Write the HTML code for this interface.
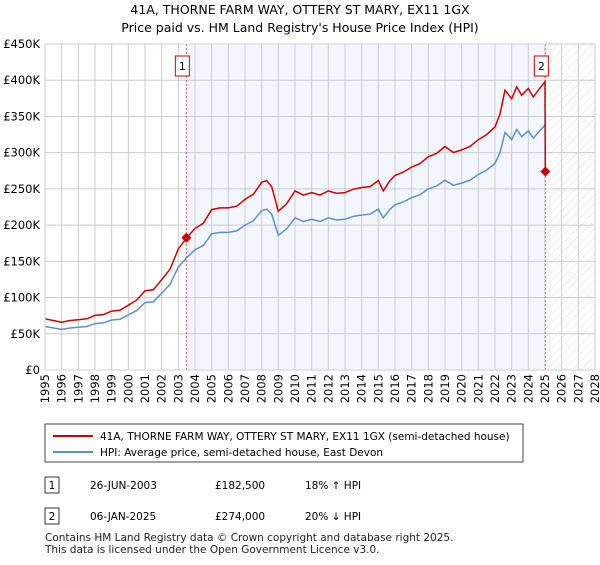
<!DOCTYPE html>
<html><head><meta charset="utf-8"><style>
body{margin:0;background:#fff;font-family:"Liberation Sans","DejaVu Sans",sans-serif;}
</style></head><body>
<svg width="600" height="560" xmlns="http://www.w3.org/2000/svg" font-family="DejaVu Sans, Liberation Sans, sans-serif">
<defs><pattern id="hatch" width="6" height="6" patternUnits="userSpaceOnUse" patternTransform="rotate(45)"><line x1="0" y1="0" x2="0" y2="6" stroke="#d4d4d4" stroke-width="0.8"/></pattern></defs>
<text x="300" y="14" text-anchor="middle" font-size="12.5" fill="#000">41A, THORNE FARM WAY, OTTERY ST MARY, EX11 1GX</text>
<text x="300" y="32" text-anchor="middle" font-size="12.5" fill="#000">Price paid vs. HM Land Registry's House Price Index (HPI)</text>
<g id="plot"></g>
<g>
<rect x="45" y="424" width="478" height="38" fill="#fff" stroke="#444"/>
<line x1="53" y1="436" x2="93" y2="436" stroke="#cc0000" stroke-width="2"/>
<text x="100" y="440" font-size="10.5">41A, THORNE FARM WAY, OTTERY ST MARY, EX11 1GX (semi-detached house)</text>
<line x1="53" y1="452" x2="93" y2="452" stroke="#5b8fd4" stroke-width="2"/>
<text x="100" y="456" font-size="10.5">HPI: Average price, semi-detached house, East Devon</text>
</g>
<g font-size="10.5">
<rect x="45" y="477" width="14" height="16" fill="#fff" stroke="#333"/><text x="52" y="489" text-anchor="middle">1</text>
<text x="90" y="489">26-JUN-2003</text><text x="215" y="489">£182,500</text><text x="305" y="489">18% ↑ HPI</text>
<rect x="45" y="508" width="14" height="16" fill="#fff" stroke="#333"/><text x="52" y="520" text-anchor="middle">2</text>
<text x="90" y="520">06-JAN-2025</text><text x="215" y="520">£274,000</text><text x="305" y="520">20% ↓ HPI</text>
</g>
<text x="45" y="541" font-size="10.5" fill="#222">Contains HM Land Registry data © Crown copyright and database right 2025.</text>
<text x="45" y="553" font-size="10.5" fill="#222">This data is licensed under the Open Government Licence v3.0.</text>
</svg>
<script>
const yearTicks=[1995,1996,1997,1998,1999,2000,2001,2002,2003,2004,2005,2006,2007,2008,2009,2010,2011,2012,2013,2014,2015,2016,2017,2018,2019,2020,2021,2022,2023,2024,2025,2026,2027,2028];
const priceTicks=[0,50,100,150,200,250,300,350,400,450];
const priceTickLabels=["£0","£50K","£100K","£150K","£200K","£250K","£300K","£350K","£400K","£450K"];
const hpiYears=[1995,1995.5,1996,1996.5,1997,1997.5,1998,1998.5,1999,1999.5,2000,2000.5,2001,2001.5,2002,2002.5,2003,2003.5,2004,2004.5,2005,2005.5,2006,2006.5,2007,2007.5,2008,2008.3,2008.6,2009,2009.5,2010,2010.5,2011,2011.5,2012,2012.5,2013,2013.5,2014,2014.5,2015,2015.3,2015.7,2016,2016.5,2017,2017.5,2018,2018.5,2019,2019.5,2020,2020.5,2021,2021.5,2022,2022.3,2022.6,2023,2023.3,2023.6,2024,2024.3,2024.6,2025];
const hpiValues=[60,58,56,58,59,60,64,65,69,70,76,82,93,94,106,118,142,155,166,172,188,190,190,192,200,206,220,222,215,186,195,210,205,208,205,210,207,208,212,214,215,222,210,222,228,232,238,242,250,254,262,255,258,262,270,276,285,300,328,318,332,322,330,320,328,338];
const saleYears=[2003.48,2025.02];
const saleValues=[182.5,274];
const saleLabels=["1","2"];
const ns="http://www.w3.org/2000/svg";
const X0=45,X1=595,Y0=370,Y1=44;
const xs=y=>X0+(y-1995)/(2028-1995)*(X1-X0);
const ys=v=>Y0-v/450*(Y0-Y1);
const g=document.getElementById('plot');
function mk(t,a){const e=document.createElementNS(ns,t);for(const k in a)e.setAttribute(k,a[k]);g.appendChild(e);return e;}
let e;
e=mk('rect',{x:xs(saleYears[0]),y:Y1,width:xs(saleYears[1])-xs(saleYears[0]),height:Y0-Y1,fill:'#eef3fc',opacity:0.7});

e=mk('rect',{x:xs(saleYears[1])+1,y:Y1,width:X1-xs(saleYears[1])-1,height:Y0-Y1,fill:'url(#hatch)'});

yearTicks.forEach(yr=>{
 e=mk('line',{x1:xs(yr),x2:xs(yr),y1:Y1,y2:Y0,stroke:'#ccc','stroke-width':1});
 
 e=mk('text',{x:xs(yr)+4,y:Y0+4,'font-size':11.5,'text-anchor':'end',transform:`rotate(-90 ${xs(yr)+4} ${Y0+4})`});
 e.textContent=yr;
});
priceTicks.forEach((v,i)=>{
 e=mk('line',{x1:X0,x2:X1,y1:ys(v),y2:ys(v),stroke:'#ccc','stroke-width':1});
 
 e=mk('text',{x:X0-5,y:ys(v)+4,'font-size':11.5,'text-anchor':'end'});
 e.textContent=priceTickLabels[i];
});
saleYears.forEach((yr,i)=>{
 e=mk('line',{x1:xs(yr),x2:xs(yr),y1:Y1,y2:Y0,stroke:'#e06060','stroke-width':1,'stroke-dasharray':'2,2'});
 
});
const ratio=saleValues[0]/155;
let hp='',rp='';
hpiYears.forEach((yr,i)=>{hp+=(i?'L':'M')+xs(yr).toFixed(1)+','+ys(hpiValues[i]).toFixed(1);
 rp+=(i?'L':'M')+xs(yr).toFixed(1)+','+ys(hpiValues[i]*ratio).toFixed(1);});
rp+='L'+xs(saleYears[1]).toFixed(1)+','+ys(saleValues[1]).toFixed(1);
e=mk('path',{d:hp,fill:'none',stroke:'#5b8fd4','stroke-width':1.5});

e=mk('path',{d:rp,fill:'none',stroke:'#cc0000','stroke-width':1.5});

saleYears.forEach((yr,i)=>{
 const cx=xs(yr),cy=ys(saleValues[i]);
 e=mk('path',{d:`M${cx},${cy-5}L${cx+5},${cy}L${cx},${cy+5}L${cx-5},${cy}Z`,fill:'#cc0000'});
 
 e=mk('rect',{x:cx-11,y:56,width:14,height:20,fill:'#fff',stroke:'#cc0000'});
 
 e=mk('text',{x:cx-4,y:70,'font-size':11,'text-anchor':'middle'});
 e.textContent=saleLabels[i];
});
e=mk('rect',{x:X0,y:Y1,width:X1-X0,height:Y0-Y1,fill:'none',stroke:'#ccc'});

</script>
</body></html>
